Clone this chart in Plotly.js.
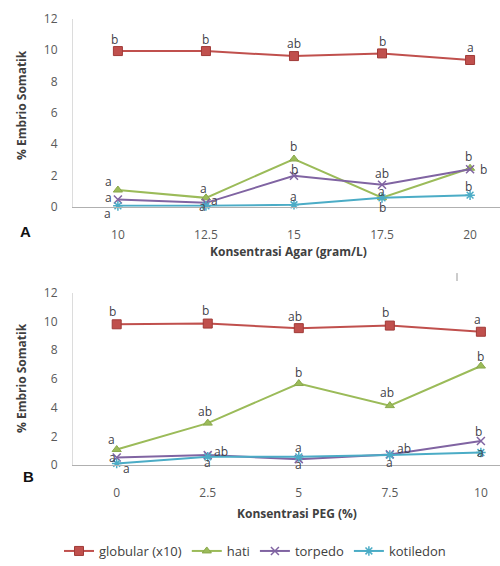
<!DOCTYPE html>
<html>
<head>
<meta charset="utf-8">
<script src="https://cdn.plot.ly/plotly-3.0.1.min.js"></script>
<style>html,body{margin:0;padding:0;background:#fff;}#chart{width:500px;height:566px;}</style>
</head>
<body>
<div id="chart"></div>
<script>
// Panel A: agar concentration (gram/L)
const agarCats = ['10', '12.5', '15', '17.5', '20'];
const agarGlobular = [9.94, 9.94, 9.62, 9.79, 9.37];
const agarHati = [1.07, 0.57, 3.05, 0.58, 2.46];
const agarTorpedo = [0.46, 0.25, 1.98, 1.41, 2.4];
const agarKotiledon = [0.06, 0.06, 0.13, 0.57, 0.74];
const agarGlobularLbl = ['b', 'b', 'ab', 'b', 'a'];
const agarHatiLbl = ['a', 'a', 'b', 'a', 'b'];
const agarTorpedoLbl = ['a', 'a', 'b', 'ab', 'b'];
const agarKotiledonLbl = ['a', 'a', 'a', 'b', 'b'];

// Panel B: PEG concentration (%)
const pegCats = ['0', '2.5', '5', '7.5', '10'];
const pegGlobular = [9.81, 9.86, 9.54, 9.72, 9.29];
const pegHati = [1.08, 2.92, 5.68, 4.14, 6.9];
const pegTorpedo = [0.53, 0.69, 0.41, 0.74, 1.68];
const pegKotiledon = [0.11, 0.57, 0.57, 0.69, 0.87];
const pegGlobularLbl = ['b', 'b', 'ab', 'b', 'a'];
const pegHatiLbl = ['a', 'ab', 'b', 'ab', 'b'];
const pegTorpedoLbl = ['a', 'ab', 'a', 'ab', 'b'];
const pegKotiledonLbl = ['a', 'a', 'a', 'a', 'a'];

const yTicks = [0, 2, 4, 6, 8, 10, 12];
const seriesNames = ['globular (x10)', 'hati', 'torpedo', 'kotiledon'];

// styling
const colors = ['#C0504D', '#9BBB59', '#8064A2', '#4BACC6'];
const markers = [
  {symbol: 'square', size: 9, color: '#C0504D', line: {color: '#A03A37', width: 1}},
  {symbol: 'triangle-up', size: 8, color: '#9BBB59', line: {color: '#8AA84C', width: 1}},
  {symbol: 'x-thin-open', size: 8, color: '#8064A2', line: {color: '#8064A2', width: 1.5}},
  {symbol: 'asterisk-open', size: 8, color: '#4BACC6', line: {color: '#4BACC6', width: 1.5}}
];
const FONT = '"Open Sans", Lato, sans-serif';
const lblFont = {family: FONT, size: 12, color: '#3f3f4a'};

// label pixel offsets [dx, dy(screen, down positive)] per series per point
const agarOffsets = [
  [[-3, -12], [0, -12], [0, -13], [0, -12], [0, -12]],
  [[-9, -9], [-2, -9], [0, -13], [-1, -6], [-2, -12]],
  [[-9, -2], [9, -2], [1, -6], [0, -11], [13, 0]],
  [[-10, 8], [-3, 1], [0, -8], [0, 10], [-2, -9]]
];
const pegOffsets = [
  [[-4, -13], [-2, -13], [-4, -12], [-4, -13], [-3, -12]],
  [[-5, -10], [-3, -12], [0, -11], [-3, -13], [0, -10]],
  [[-4, 0], [13, -4], [0, 5], [14, -6], [-2, -9]],
  [[10, 5], [0, 6], [0, -9], [0, 7], [0, 0]]
];

function mk(x, y, i, xa, ya, show) {
  return {
    x: x, y: y, name: seriesNames[i], type: 'scatter',
    mode: 'lines+markers', xaxis: xa, yaxis: ya,
    line: {color: colors[i], width: 2}, marker: markers[i],
    showlegend: show, cliponaxis: false
  };
}

const data = [
  mk(agarCats, agarGlobular, 0, 'x', 'y', true),
  mk(agarCats, agarHati, 1, 'x', 'y', true),
  mk(agarCats, agarTorpedo, 2, 'x', 'y', true),
  mk(agarCats, agarKotiledon, 3, 'x', 'y', true),
  mk(pegCats, pegGlobular, 0, 'x2', 'y2', false),
  mk(pegCats, pegHati, 1, 'x2', 'y2', false),
  mk(pegCats, pegTorpedo, 2, 'x2', 'y2', false),
  mk(pegCats, pegKotiledon, 3, 'x2', 'y2', false)
];

const annotations = [];
// x is given as the category index on the category axis
function addLabels(cats, vals, lbls, offs, xr, yr) {
  for (let k = 0; k < cats.length; k++) {
    annotations.push({
      x: k, y: vals[k], xref: xr, yref: yr, text: lbls[k], showarrow: false,
      xshift: offs[k][0], yshift: -offs[k][1], font: lblFont,
      xanchor: 'center', yanchor: 'middle', borderpad: 0
    });
  }
}
addLabels(agarCats, agarGlobular, agarGlobularLbl, agarOffsets[0], 'x', 'y');
addLabels(agarCats, agarHati, agarHatiLbl, agarOffsets[1], 'x', 'y');
addLabels(agarCats, agarTorpedo, agarTorpedoLbl, agarOffsets[2], 'x', 'y');
addLabels(agarCats, agarKotiledon, agarKotiledonLbl, agarOffsets[3], 'x', 'y');
addLabels(pegCats, pegGlobular, pegGlobularLbl, pegOffsets[0], 'x2', 'y2');
addLabels(pegCats, pegHati, pegHatiLbl, pegOffsets[1], 'x2', 'y2');
addLabels(pegCats, pegTorpedo, pegTorpedoLbl, pegOffsets[2], 'x2', 'y2');
addLabels(pegCats, pegKotiledon, pegKotiledonLbl, pegOffsets[3], 'x2', 'y2');

const tickFont = {family: FONT, size: 12, color: '#595959'};
const H = 566, W = 500;
function py(p) { return 1 - p / H; }

const xBase = {
  type: 'category', showgrid: false, zeroline: false, showline: true,
  linecolor: '#b0b0b0', linewidth: 1, ticks: '', tickfont: tickFont,
  ticklabelstandoff: 17, fixedrange: true
};
const yBase = {
  range: [0, 12], tickvals: yTicks, showgrid: false, zeroline: false,
  showline: true, linecolor: '#dcdcdc', linewidth: 1,
  ticks: 'outside', ticklen: 12, tickcolor: 'rgba(0,0,0,0)',
  ticksuffix: '\u00a0\u00a0\u00a0\u00a0',
  tickfont: tickFont, fixedrange: true
};

const titleFont = {family: FONT, size: 12, color: '#404040', weight: 'bold'};
const panelFont = {family: 'Liberation Sans, Arial, sans-serif', size: 15, color: '#111', weight: 'bold'};

annotations.push(
  {text: '% Embrio Somatik', textangle: -90, xref: 'paper', yref: 'paper', x: 22 / W, y: py(106), showarrow: false, font: titleFont, xanchor: 'center', yanchor: 'middle'},
  {text: '% Embrio Somatik', textangle: -90, xref: 'paper', yref: 'paper', x: 22 / W, y: py(382), showarrow: false, font: titleFont, xanchor: 'center', yanchor: 'middle'},
  {text: 'Konsentrasi Agar (gram/L)', xref: 'paper', yref: 'paper', x: 288 / W, y: py(254), showarrow: false, font: titleFont, xanchor: 'center', yanchor: 'middle'},
  {text: 'Konsentrasi PEG (%)', xref: 'paper', yref: 'paper', x: 297 / W, y: py(519), showarrow: false, font: titleFont, xanchor: 'center', yanchor: 'middle'},
  {text: 'A', xref: 'paper', yref: 'paper', x: 25 / W, y: py(234), showarrow: false, font: panelFont, xanchor: 'center', yanchor: 'middle'},
  {text: 'B', xref: 'paper', yref: 'paper', x: 28 / W, y: py(482), showarrow: false, font: panelFont, xanchor: 'center', yanchor: 'middle'}
);

const layout = {
  width: W, height: H,
  margin: {l: 0, r: 0, t: 0, b: 0},
  paper_bgcolor: '#ffffff', plot_bgcolor: '#ffffff',
  showlegend: true,
  legend: {
    orientation: 'h', x: 0.51, xanchor: 'center', y: py(557), yanchor: 'middle',
    font: {family: FONT, size: 13, color: '#404040'},
    itemwidth: 30, tracegroupgap: 0
  },
  xaxis: Object.assign({}, xBase, {domain: [73 / W, 1], range: [-0.51, 4.34], anchor: 'y'}),
  yaxis: Object.assign({}, yBase, {domain: [py(209), py(19)], anchor: 'x'}),
  xaxis2: Object.assign({}, xBase, {domain: [73 / W, 1], range: [-0.48, 4.21], anchor: 'y2'}),
  yaxis2: Object.assign({}, yBase, {domain: [py(470), py(296)], anchor: 'x2'}),
  annotations: annotations,
  shapes: [
    {type: 'line', xref: 'paper', yref: 'paper', x0: 457 / W, x1: 457 / W, y0: py(276), y1: py(284), line: {color: '#999', width: 1}}
  ]
};

Plotly.newPlot('chart', data, layout, {displayModeBar: false, staticPlot: true});
</script>
</body>
</html>
